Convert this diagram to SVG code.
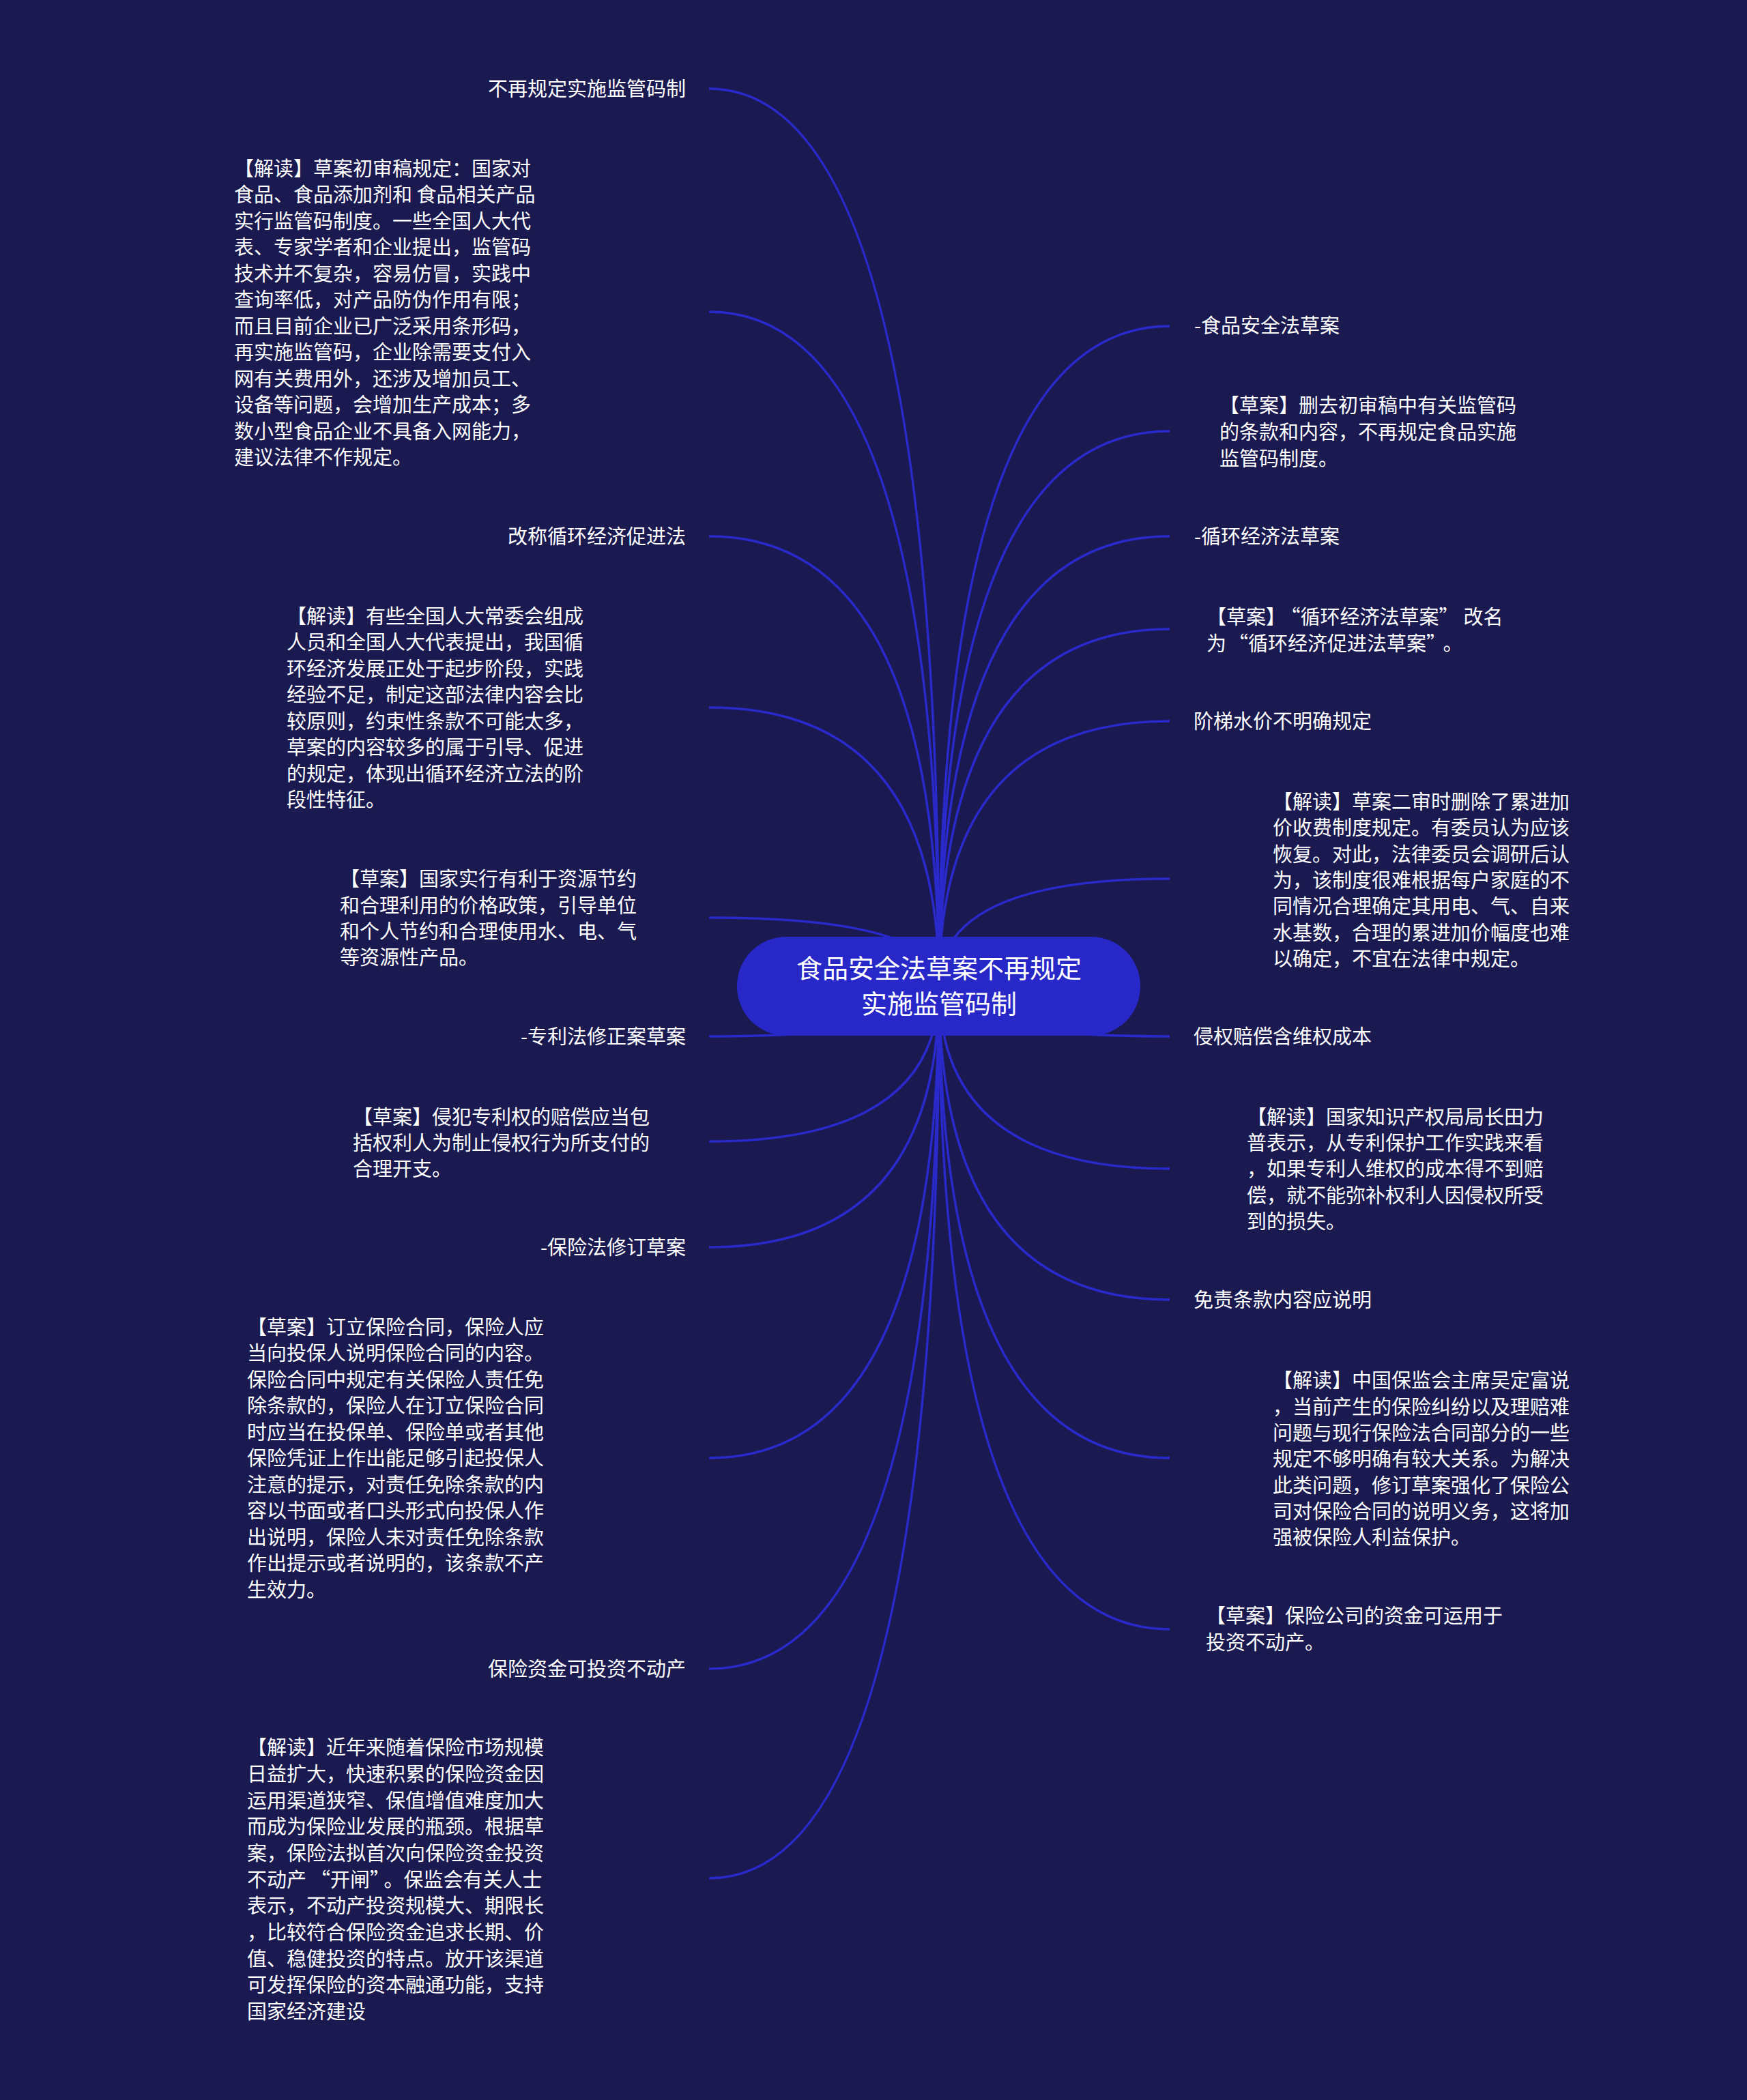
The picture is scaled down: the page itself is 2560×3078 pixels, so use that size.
<svg xmlns="http://www.w3.org/2000/svg" width="2560" height="3078" viewBox="0 0 2560 3078" xml:lang="zh-CN">
<style>
.bg{fill:#1a1950}
.edge{fill:none;stroke:#2a2acc;stroke-width:3.5}
.root{fill:#2828c8}
.rt{font-family:"Noto Sans CJK SC","Noto Sans",sans-serif;font-size:38px;fill:#ffffff;text-anchor:middle}
.t{font-family:"Noto Sans CJK SC","Noto Sans",sans-serif;font-size:29px;fill:#ffffff}
.e{text-anchor:end}
</style>
<rect class="bg" x="0" y="0" width="2560" height="3078"/>
<g id="connectors">
<path class="edge" d="M1376 1445 Q1376 130 1039 130"/>
<path class="edge" d="M1376 1445 Q1376 457 1039 457"/>
<path class="edge" d="M1376 1445 Q1376 786 1039 786"/>
<path class="edge" d="M1376 1445 Q1376 1037 1039 1037"/>
<path class="edge" d="M1376 1445 Q1376 1345 1039 1345"/>
<path class="edge" d="M1376 1445 Q1376 1519 1039 1519"/>
<path class="edge" d="M1376 1445 Q1376 1673 1039 1673"/>
<path class="edge" d="M1376 1445 Q1376 1828 1039 1828"/>
<path class="edge" d="M1376 1445 Q1376 2137 1039 2137"/>
<path class="edge" d="M1376 1445 Q1376 2446 1039 2446"/>
<path class="edge" d="M1376 1445 Q1376 2753 1039 2753"/>
<path class="edge" d="M1376 1445 Q1376 478 1714 478"/>
<path class="edge" d="M1376 1445 Q1376 632 1714 632"/>
<path class="edge" d="M1376 1445 Q1376 786 1714 786"/>
<path class="edge" d="M1376 1445 Q1376 922 1714 922"/>
<path class="edge" d="M1376 1445 Q1376 1057 1714 1057"/>
<path class="edge" d="M1376 1445 Q1376 1288 1714 1288"/>
<path class="edge" d="M1376 1445 Q1376 1519 1714 1519"/>
<path class="edge" d="M1376 1445 Q1376 1713 1714 1713"/>
<path class="edge" d="M1376 1445 Q1376 1905 1714 1905"/>
<path class="edge" d="M1376 1445 Q1376 2137 1714 2137"/>
<path class="edge" d="M1376 1445 Q1376 2388 1714 2388"/>
</g>
<g id="root">
<rect class="root" x="1080" y="1373" width="591" height="145" rx="72" ry="72"/>
<text class="rt"><tspan x="1376" y="1433">食品安全法草案不再规定</tspan><tspan x="1376" y="1485">实施监管码制</tspan></text>
</g>
<g id="n-l1"><text class="t e" x="1005" y="141">不再规定实施监管码制</text></g>
<g id="n-l2"><text class="t">
<tspan x="343" y="258">【解读】草案初审稿规定：国家对</tspan>
<tspan x="343" y="296">食品、食品添加剂和 食品相关产品</tspan>
<tspan x="343" y="335">实行监管码制度。一些全国人大代</tspan>
<tspan x="343" y="373">表、专家学者和企业提出，监管码</tspan>
<tspan x="343" y="412">技术并不复杂，容易仿冒，实践中</tspan>
<tspan x="343" y="450">查询率低，对产品防伪作用有限；</tspan>
<tspan x="343" y="489">而且目前企业已广泛采用条形码，</tspan>
<tspan x="343" y="527">再实施监管码，企业除需要支付入</tspan>
<tspan x="343" y="566">网有关费用外，还涉及增加员工、</tspan>
<tspan x="343" y="604">设备等问题，会增加生产成本；多</tspan>
<tspan x="343" y="643">数小型食品企业不具备入网能力，</tspan>
<tspan x="343" y="681">建议法律不作规定。</tspan>
</text></g>
<g id="n-l3"><text class="t e" x="1005" y="797">改称循环经济促进法</text></g>
<g id="n-l4"><text class="t">
<tspan x="420" y="914">【解读】有些全国人大常委会组成</tspan>
<tspan x="420" y="952">人员和全国人大代表提出，我国循</tspan>
<tspan x="420" y="991">环经济发展正处于起步阶段，实践</tspan>
<tspan x="420" y="1029">经验不足，制定这部法律内容会比</tspan>
<tspan x="420" y="1068">较原则，约束性条款不可能太多，</tspan>
<tspan x="420" y="1106">草案的内容较多的属于引导、促进</tspan>
<tspan x="420" y="1145">的规定，体现出循环经济立法的阶</tspan>
<tspan x="420" y="1183">段性特征。</tspan>
</text></g>
<g id="n-l5"><text class="t">
<tspan x="498" y="1299">【草案】国家实行有利于资源节约</tspan>
<tspan x="498" y="1338">和合理利用的价格政策，引导单位</tspan>
<tspan x="498" y="1376">和个人节约和合理使用水、电、气</tspan>
<tspan x="498" y="1414">等资源性产品。</tspan>
</text></g>
<g id="n-l6"><text class="t e" x="1005" y="1530">-专利法修正案草案</text></g>
<g id="n-l7"><text class="t">
<tspan x="517" y="1648">【草案】侵犯专利权的赔偿应当包</tspan>
<tspan x="517" y="1686">括权利人为制止侵权行为所支付的</tspan>
<tspan x="517" y="1724">合理开支。</tspan>
</text></g>
<g id="n-l8"><text class="t e" x="1005" y="1839">-保险法修订草案</text></g>
<g id="n-l9"><text class="t">
<tspan x="362" y="1956">【草案】订立保险合同，保险人应</tspan>
<tspan x="362" y="1994">当向投保人说明保险合同的内容。</tspan>
<tspan x="362" y="2033">保险合同中规定有关保险人责任免</tspan>
<tspan x="362" y="2071">除条款的，保险人在订立保险合同</tspan>
<tspan x="362" y="2110">时应当在投保单、保险单或者其他</tspan>
<tspan x="362" y="2148">保险凭证上作出能足够引起投保人</tspan>
<tspan x="362" y="2187">注意的提示，对责任免除条款的内</tspan>
<tspan x="362" y="2225">容以书面或者口头形式向投保人作</tspan>
<tspan x="362" y="2264">出说明，保险人未对责任免除条款</tspan>
<tspan x="362" y="2302">作出提示或者说明的，该条款不产</tspan>
<tspan x="362" y="2341">生效力。</tspan>
</text></g>
<g id="n-l10"><text class="t e" x="1005" y="2457">保险资金可投资不动产</text></g>
<g id="n-l11"><text class="t">
<tspan x="362" y="2572">【解读】近年来随着保险市场规模</tspan>
<tspan x="362" y="2611">日益扩大，快速积累的保险资金因</tspan>
<tspan x="362" y="2650">运用渠道狭窄、保值增值难度加大</tspan>
<tspan x="362" y="2688">而成为保险业发展的瓶颈。根据草</tspan>
<tspan x="362" y="2727">案，保险法拟首次向保险资金投资</tspan>
<tspan x="362" y="2766">不动产<tspan dx="6">“</tspan>开闸”<tspan dx="6">。</tspan>保监会有关人士</tspan>
<tspan x="362" y="2804">表示，不动产投资规模大、期限长</tspan>
<tspan x="362" y="2843">，比较符合保险资金追求长期、价</tspan>
<tspan x="362" y="2882">值、稳健投资的特点。放开该渠道</tspan>
<tspan x="362" y="2920">可发挥保险的资本融通功能，支持</tspan>
<tspan x="362" y="2959">国家经济建设</tspan>
</text></g>
<g id="n-r1"><text class="t" x="1750" y="488">-食品安全法草案</text></g>
<g id="n-r2"><text class="t">
<tspan x="1787" y="605">【草案】删去初审稿中有关监管码</tspan>
<tspan x="1787" y="644">的条款和内容，不再规定食品实施</tspan>
<tspan x="1787" y="683">监管码制度。</tspan>
</text></g>
<g id="n-r3"><text class="t" x="1750" y="797">-循环经济法草案</text></g>
<g id="n-r4"><text class="t">
<tspan x="1768" y="915">【草案】<tspan dx="7">“</tspan>循环经济法草案”<tspan dx="7">改名</tspan></tspan>
<tspan x="1768" y="954">为<tspan dx="3">“</tspan>循环经济促进法草案”<tspan dx="10">。</tspan></tspan>
</text></g>
<g id="n-r5"><text class="t" x="1749" y="1068">阶梯水价不明确规定</text></g>
<g id="n-r6"><text class="t">
<tspan x="1865" y="1186">【解读】草案二审时删除了累进加</tspan>
<tspan x="1865" y="1224">价收费制度规定。有委员认为应该</tspan>
<tspan x="1865" y="1263">恢复。对此，法律委员会调研后认</tspan>
<tspan x="1865" y="1301">为，该制度很难根据每户家庭的不</tspan>
<tspan x="1865" y="1339">同情况合理确定其用电、气、自来</tspan>
<tspan x="1865" y="1378">水基数，合理的累进加价幅度也难</tspan>
<tspan x="1865" y="1416">以确定，不宜在法律中规定。</tspan>
</text></g>
<g id="n-r7"><text class="t" x="1749" y="1530">侵权赔偿含维权成本</text></g>
<g id="n-r8"><text class="t">
<tspan x="1827" y="1648">【解读】国家知识产权局局长田力</tspan>
<tspan x="1827" y="1686">普表示，从专利保护工作实践来看</tspan>
<tspan x="1827" y="1724">，如果专利人维权的成本得不到赔</tspan>
<tspan x="1827" y="1763">偿，就不能弥补权利人因侵权所受</tspan>
<tspan x="1827" y="1801">到的损失。</tspan>
</text></g>
<g id="n-r9"><text class="t" x="1749" y="1916">免责条款内容应说明</text></g>
<g id="n-r10"><text class="t">
<tspan x="1865" y="2034">【解读】中国保监会主席吴定富说</tspan>
<tspan x="1865" y="2073">，当前产生的保险纠纷以及理赔难</tspan>
<tspan x="1865" y="2111">问题与现行保险法合同部分的一些</tspan>
<tspan x="1865" y="2149">规定不够明确有较大关系。为解决</tspan>
<tspan x="1865" y="2188">此类问题，修订草案强化了保险公</tspan>
<tspan x="1865" y="2226">司对保险合同的说明义务，这将加</tspan>
<tspan x="1865" y="2264">强被保险人利益保护。</tspan>
</text></g>
<g id="n-r11"><text class="t">
<tspan x="1767" y="2379">【草案】保险公司的资金可运用于</tspan>
<tspan x="1767" y="2418">投资不动产。</tspan>
</text></g>
</svg>
